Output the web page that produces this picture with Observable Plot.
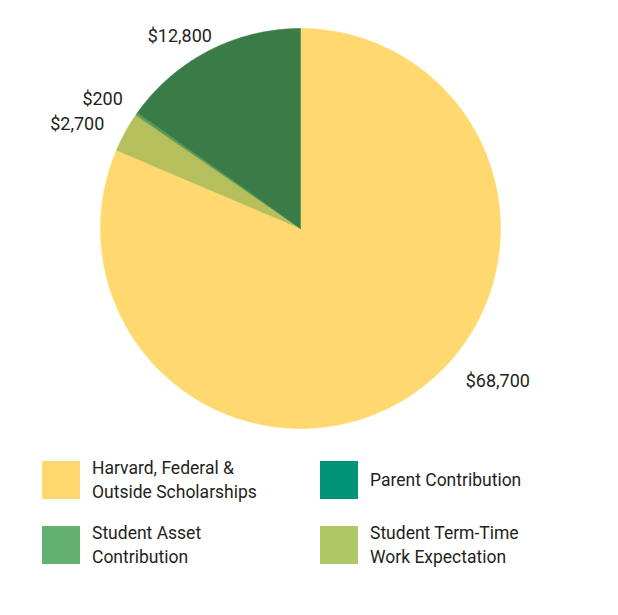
<!DOCTYPE html>
<html>
<head>
<meta charset="utf-8">
<script src="https://cdn.jsdelivr.net/npm/d3@7"></script>
<script src="https://cdn.jsdelivr.net/npm/@observablehq/plot@0.6"></script>
<style>
  html, body { margin: 0; padding: 0; background: #fff; }
  body { width: 618px; height: 615px; position: relative; font-family: Roboto, "Noto Sans", sans-serif; color: #231f20; }
  #chart { position: absolute; left: 0; top: 0; }
  .lg { position: absolute; display: flex; align-items: center; font-size: 17.5px; line-height: 24px; }
  .sw { width: 38px; height: 38px; flex: none; margin-right: 12px; }
</style>
</head>
<body>
<div id="chart"></div>
<div id="legend"></div>
<script>
// Slices, clockwise from 12 o'clock
const sliceNames = ["Harvard, Federal & Outside Scholarships", "Student Term-Time Work Expectation", "Student Asset Contribution", "Parent Contribution"];
const sliceValues = [68700, 2700, 200, 12800];
const sliceLabels = ["$68,700", "$2,700", "$200", "$12,800"];
const sliceColors = ["#ffd970", "#b5bf5c", "#5a9a55", "#3a7c47"];

// Legend
const legendNames = ["Harvard, Federal &<br>Outside Scholarships", "Parent Contribution", "Student Asset<br>Contribution", "Student Term-Time<br>Work Expectation"];
const legendColors = ["#ffd96e", "#00937a", "#63b070", "#afc866"];

// label nudges (pixels) relative to the rim point at each slice's mid-angle
const labelDx = [87, -48, -34, -29];
const labelDy = [-14, -8, -15, -15];

const total = d3.sum(sliceValues);
let cum = 0;
const polys = [];
const mids = [];
sliceValues.forEach((v, i) => {
  const a0 = cum / total * 2 * Math.PI;
  cum += v;
  const a1 = cum / total * 2 * Math.PI;
  const n = Math.max(2, Math.ceil((a1 - a0) / (Math.PI / 360)));
  polys.push({slice: sliceNames[i], x: 0, y: 0});
  for (let k = 0; k <= n; k++) {
    const a = a0 + (a1 - a0) * k / n;
    polys.push({slice: sliceNames[i], x: Math.sin(a), y: Math.cos(a)});
  }
  polys.push({slice: sliceNames[i], x: 0, y: 0});
  const am = (a0 + a1) / 2;
  mids.push({label: sliceLabels[i], x: Math.sin(am), y: Math.cos(am), i});
});

const chart = Plot.plot({
  width: 618,
  height: 440,
  marginLeft: 100,
  marginRight: 118,
  marginTop: 28,
  marginBottom: 12,
  x: {domain: [-1, 1], axis: null},
  y: {domain: [-1, 1], axis: null},
  color: {domain: sliceNames, range: sliceColors},
  style: {fontFamily: "Roboto, 'Noto Sans', sans-serif", background: "white", overflow: "visible"},
  marks: [
    Plot.line(polys, {x: "x", y: "y", z: "slice", fill: "slice", stroke: "slice", strokeWidth: 0.5, curve: "linear", clip: false}),
    ...mids.map(m => Plot.text([m], {x: "x", y: "y", text: "label", dx: labelDx[m.i], dy: labelDy[m.i], fontSize: 18, fill: "#231f20", textAnchor: "middle"}))
  ]
});
document.getElementById("chart").appendChild(chart);

// HTML legend
const pos = [[42, 456], [320, 456], [42, 521], [320, 521]];
const lg = document.getElementById("legend");
legendNames.forEach((name, i) => {
  const d = document.createElement("div");
  d.className = "lg";
  d.style.left = pos[i][0] + "px";
  d.style.top = pos[i][1] + "px";
  d.style.height = "48px";
  d.innerHTML = `<div class="sw" style="background:${legendColors[i]}"></div><div>${name}</div>`;
  lg.appendChild(d);
});
</script>
</body>
</html>
